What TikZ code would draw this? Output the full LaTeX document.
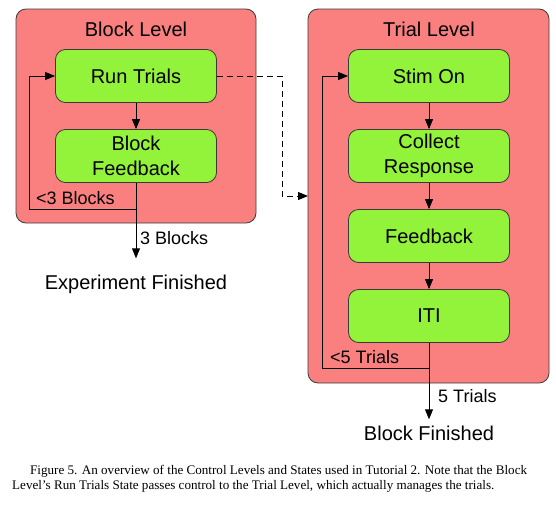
\documentclass[tikz,border=0pt]{standalone}
\usepackage{fontspec}
\setmainfont{Liberation Sans}
\newfontfamily\capfont{Liberation Serif}
\usetikzlibrary{arrows.meta}
\definecolor{levelred}{HTML}{FA8080}
\definecolor{stategreen}{HTML}{93F23A}
\definecolor{edgegray}{HTML}{3A3A3A}
\tikzset{
  level/.style={draw=edgegray, line width=0.8pt, fill=levelred, rounded corners=10pt},
  state/.style={draw=edgegray, line width=0.8pt, fill=stategreen, rounded corners=10pt,
    minimum width=161pt, minimum height=53pt, inner sep=0pt, align=center,
    font=\fontsize{20}{25}\selectfont},
  title/.style={font=\fontsize{20}{24}\selectfont, inner sep=0pt, anchor=base},
  cond/.style={font=\fontsize{18}{22}\selectfont, inner sep=0pt, anchor=base west},
  arr/.style={line width=0.9pt, -{Triangle[length=10pt,width=8pt]}},
  dasharr/.style={arr, dash pattern=on 6pt off 4pt},
}
\begin{document}
\begin{tikzpicture}[x=1pt,y=-1pt]
\useasboundingbox (0,0) rectangle (556,504);
% level boxes
\draw[level] (16,9) rectangle (256,223);
\draw[level] (308,9) rectangle (549,383);
\node[title] (bl) at (136,36) {Block Level};
\node[title] (tl) at (429,36) {Trial Level};
% states
\node[state] (rt) at (136,76) {Run Trials};
\node[state] (bfb) at (136,156) {Block\\Feedback};
\node[state] (so) at (429,76) {Stim On};
\node[state] (cr) at (429,156) {Collect\\Response};
\node[state] (fb) at (429,236) {Feedback};
\node[state] (iti) at (429,316) {ITI};
% end texts
\node[title] (ef) at (136,289) {Experiment Finished};
\node[title] (bfin) at (429,440) {Block Finished};
% coordinates
\coordinate (lloop) at (29,209);
\coordinate (rloop) at (322,368);
\coordinate (dash1) at (282,76);
\coordinate (dash2) at (282,196);
% arrows
\draw[arr] (rt) -- (bfb);
\draw[arr] (bfb.south) -- ([yshift=16pt]bfb.south |- ef.north);
\draw[arr] (bfb.south |- lloop) -- (lloop) |- (rt.west);
\draw[arr] (so) -- (cr);
\draw[arr] (cr) -- (fb);
\draw[arr] (fb) -- (iti);
\draw[arr] (iti.south) -- ([yshift=6pt]iti.south |- bfin.north);
\draw[arr] (iti.south |- rloop) -- (rloop) |- (so.west);
\draw[dasharr] (rt.east) -- (dash1) -- (dash2) -- (dash2 -| 308,0);
% condition labels
\node[cond] (c1) at (36,204) {<3 Blocks};
\node[cond] (c2) at (140,244) {3 Blocks};
\node[cond] (c3) at (330,363) {<5 Trials};
\node[cond] (c4) at (438,402) {5 Trials};
% caption
\node[anchor=base west, inner sep=0pt, align=left, font=\capfont\fontsize{13.1}{15}\selectfont] (cap) at (12,489)
  {\hspace*{18pt}Figure 5. An overview of the Control Levels and States used in Tutorial 2. Note that the Block\\
   Level’s Run Trials State passes control to the Trial Level, which actually manages the trials.};
\end{tikzpicture}
\end{document}
